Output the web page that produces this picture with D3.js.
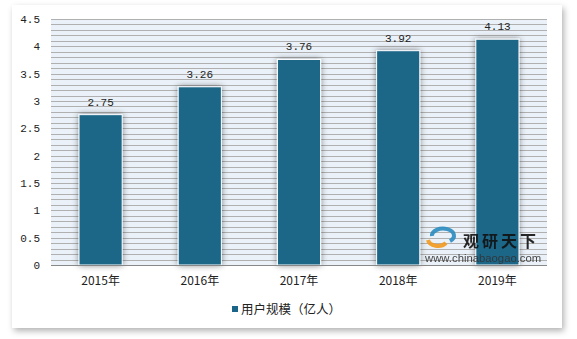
<!DOCTYPE html>
<html>
<head>
<meta charset="utf-8">
<script src="https://cdn.jsdelivr.net/npm/d3@7"></script>
<style>
  body { margin: 0; background: #fff; }
  text { font-family: "Liberation Mono", "DejaVu Sans Mono", monospace; font-size: 11px; fill: #222; }
  .cjk { font-family: "Noto Sans CJK SC", sans-serif; font-size: 12px; }
</style>
</head>
<body>
<svg id="chart" width="577" height="339"></svg>
<script>
// data
let years = ["2015年", "2016年", "2017年", "2018年", "2019年"]
let users = [2.75, 3.26, 3.76, 3.92, 4.13]
let yTicks = [0, 0.5, 1, 1.5, 2, 2.5, 3, 3.5, 4, 4.5]
let seriesName = "用户规模（亿人）"

let svg = d3.select("#chart")
let defs = svg.append("defs")
let card = defs.append("filter").attr("id", "cardShadow")
    .attr("x", "-10%").attr("y", "-10%").attr("width", "120%").attr("height", "120%")
card.append("feDropShadow").attr("dx", 2).attr("dy", 3).attr("stdDeviation", 3)
    .attr("flood-color", "#000").attr("flood-opacity", 0.3)
let barSh = defs.append("filter").attr("id", "barShadow")
    .attr("x", "-40%").attr("y", "-20%").attr("width", "180%").attr("height", "140%")
barSh.append("feDropShadow").attr("dx", 0).attr("dy", 0).attr("stdDeviation", 3)
    .attr("flood-color", "#000").attr("flood-opacity", 0.45)

// card
svg.append("rect").attr("x", 12).attr("y", 5).attr("width", 550).attr("height", 323)
    .attr("fill", "#fff").attr("filter", "url(#cardShadow)")

let pLeft = 51, pRight = 547, pTop = 19, pBottom = 265
let x = d3.scaleBand().domain(years).range([pLeft, pRight])
    .paddingInner(0.565).paddingOuter(0.2825)
let y = d3.scaleLinear().domain([0, 4.5]).range([pBottom, pTop])

// plot background
svg.append("rect").attr("x", pLeft).attr("y", pTop).attr("width", pRight - pLeft).attr("height", pBottom - pTop)
    .attr("fill", "#eaf1f8")

// minor gridlines every 0.1
let grid = d3.range(1, 46).map(d => d / 10)
svg.append("g").selectAll("line").data(grid).enter().append("line")
    .attr("x1", pLeft).attr("x2", pRight)
    .attr("y1", d => Math.round(y(d)) + 0.5).attr("y2", d => Math.round(y(d)) + 0.5)
    .attr("stroke", "#b0b0b0").attr("stroke-width", 1)

// bars
svg.append("g").selectAll("rect").data(users).enter().append("rect")
    .attr("x", (d, i) => x(years[i]))
    .attr("y", d => y(d))
    .attr("width", x.bandwidth())
    .attr("height", d => pBottom - y(d))
    .attr("fill", "#1b6688")
    .attr("stroke", "#fff").attr("stroke-width", 1)
    .attr("filter", "url(#barShadow)")

// value labels
svg.append("g").selectAll("text").data(users).enter().append("text")
    .attr("x", (d, i) => x(years[i]) + x.bandwidth() / 2)
    .attr("y", d => y(d) - 9)
    .attr("text-anchor", "middle")
    .text(d => d.toFixed(2))

// y axis
let yAxis = d3.axisLeft(y).tickValues(yTicks).tickSize(0).tickPadding(11)
    .tickFormat(d => String(d))
let ya = svg.append("g").attr("transform", `translate(${pLeft},0)`).call(yAxis)
ya.select(".domain").remove()
ya.selectAll("text").attr("font-family", null).attr("font-size", null)

// x axis
let xAxis = d3.axisBottom(x).tickSize(0).tickPadding(11)
let xa = svg.append("g").attr("transform", `translate(0,${pBottom})`).call(xAxis)
xa.attr("font-family", null).attr("font-size", null)
xa.select(".domain").attr("stroke", "#888").attr("d", `M${pLeft},0.5H${pRight}`)
xa.selectAll("text").attr("class", "cjk")

// legend
svg.append("rect").attr("x", 232).attr("y", 306).attr("width", 6).attr("height", 6).attr("fill", "#1b6688")
svg.append("text").attr("class", "cjk").attr("x", 241).attr("y", 314).style("font-size", "12.5px")
    .text(seriesName)

// watermark
let wm = svg.append("g").attr("opacity", 0.9)
wm.append("path").attr("d", "M432,236 a11,7 0 1,1 18,5").attr("fill", "none")
    .attr("stroke", "#2a8cc0").attr("stroke-width", 4)
wm.append("path").attr("d", "M428,240 a10,7 0 0,0 18,3").attr("fill", "none")
    .attr("stroke", "#f39a1e").attr("stroke-width", 4)
wm.append("text").attr("x", 463).attr("y", 247).attr("class", "cjk")
    .style("font-size", "16px").style("font-weight", "bold").style("fill", "#111")
    .attr("letter-spacing", 3).text("观研天下")
wm.append("text").attr("x", 425).attr("y", 262)
    .style("font-family", "Liberation Sans, sans-serif").style("font-size", "11.3px").style("fill", "#333")
    .text("www.chinabaogao.com")
</script>
</body>
</html>
